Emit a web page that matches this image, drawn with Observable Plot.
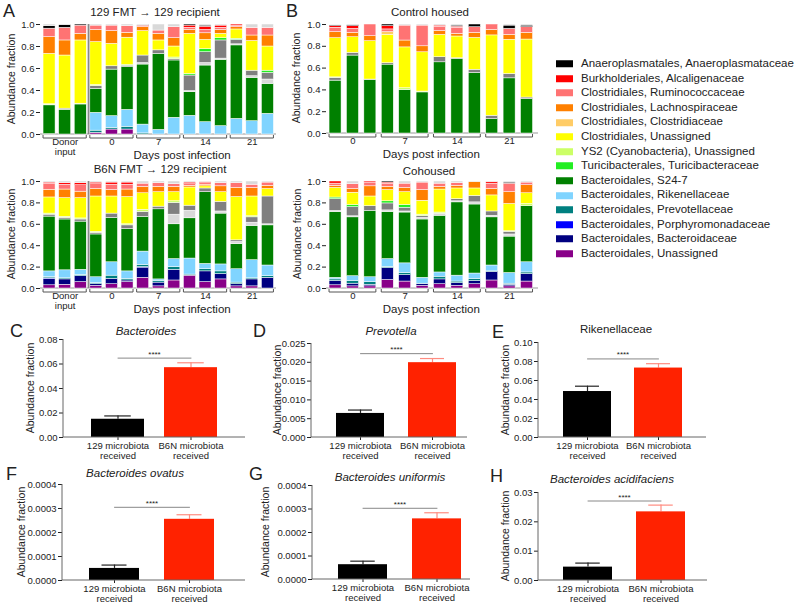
<!DOCTYPE html>
<html><head><meta charset="utf-8">
<script src="https://cdn.jsdelivr.net/npm/d3@7"></script>
<script src="https://cdn.jsdelivr.net/npm/@observablehq/plot@0.6"></script>
<style>
body{margin:0;background:#fff;}
#fig{position:relative;width:800px;height:606px;overflow:hidden;font-family:"Liberation Sans",Arial,sans-serif;color:#222;}
.abs{position:absolute;white-space:nowrap;line-height:1;}
.letter{font-size:18px;transform:translate(0,-50%);}
.title{font-size:11.5px;transform:translate(-50%,-50%);}
.ylab{font-size:10.5px;transform:translate(-50%,-50%) rotate(-90deg);}
#fig svg{position:absolute;overflow:visible;}
</style></head><body><div id="fig"></div>
<script>
// ---------- taxa (stacking order, bottom to top) ----------
const taxaKeys = ["pu","nv","bl","te","lb","gr","lg","dg","tu","ys","ye","lo","or","sa","rd","bk","tg"];
const taxaNames = ["Bacteroidales, Unassigned","Bacteroidales, Bacteroidaceae","Bacteroidales, Porphyromonadaceae","Bacteroidales, Prevotellaceae","Bacteroidales, Rikenellaceae","Bacteroidales, S24-7","Other","Other","Turicibacterales, Turicibacteraceae","YS2 (Cyanobacteria), Unassigned","Clostridiales, Unassigned","Clostridiales, Clostridiaceae","Clostridiales, Lachnospiraceae","Clostridiales, Ruminococcaceae","Burkholderiales, Alcaligenaceae","Anaeroplasmatales, Anaeroplasmataceae","Other"];
const taxaColors = ["#880088","#000080","#0000FF","#008080","#80D4FF","#008000","#D9D9D9","#808080","#22EE22","#CCFF66","#FFFF00","#FFCC66","#FF8000","#FF7373","#FF0000","#000000","#D9D9D9"];
const legendKeys = ["bk","rd","sa","or","lo","ye","ys","tu","gr","lb","te","bl","nv","pu"];

// ---------- cumulative abundance (top of each taxon) per bar ----------
const groupsWithDonor = ["Donor\ninput","0","7","14","21"];
const groupsDays = ["0","7","14","21"];
const barsPerGroup = 3;
const donorBars = 3;

const fmt129to129 = [
 {pu:.003,gr:.265,dg:.27,ys:.275,ye:.733,or:.885,sa:.962,bk:.985,tg:1},
 {gr:.224,dg:.235,ye:.718,or:.855,sa:.97,bk:.995,tg:1},
 {gr:.273,ys:.28,ye:.855,or:.915,sa:.99,bk:1},
 {pu:.015,te:.035,lb:.197,gr:.415,dg:.44,ys:.45,ye:.84,or:.95,sa:.99,tg:1},
 {pu:.045,te:.06,lb:.167,gr:.59,dg:.62,ye:.824,or:.94,sa:.99,tg:1},
 {pu:.045,te:.07,lb:.224,gr:.612,dg:.625,tu:.632,ye:.88,or:.924,sa:.985,tg:1},
 {te:.01,lb:.09,gr:.636,lg:.65,dg:.718,ye:.94,or:.976,sa:.985,rd:.99,bk:.995,tg:1},
 {lb:.042,gr:.733,dg:.765,ye:.855,or:.915,sa:.945,tg:1},
 {lb:.152,gr:.673,dg:.685,ys:.7,ye:.8,or:.876,sa:.976,tg:1},
 {lb:.17,gr:.385,lg:.395,dg:.536,tu:.55,ye:.915,or:.95,sa:.97,rd:.99,bk:1},
 {lb:.112,gr:.627,lg:.65,dg:.748,tu:.775,ye:.86,or:.92,sa:.95,rd:.98,bk:.99,tg:1},
 {lb:.076,gr:.679,lg:.69,dg:.855,tu:.875,ye:.915,or:.95,sa:.97,rd:.99,tg:1},
 {lb:.142,gr:.81,lg:.82,dg:.86,tu:.87,ye:.955,or:.975,sa:.99,rd:1},
 {lb:.121,gr:.515,lg:.53,dg:.58,ye:.85,or:.9,sa:.97,tg:1},
 {lb:.188,gr:.46,lg:.5,dg:.56,tu:.58,ye:.8,or:.9,sa:.97,tg:1}
];
const controlHoused = [
 {gr:.485,dg:.51,ys:.515,ye:.875,or:.93,sa:.97,rd:.985,bk:.993,tg:1},
 {gr:.715,dg:.74,ye:.883,or:.923,sa:.96,rd:.985,bk:.995,tg:1},
 {gr:.49,dg:.495,ye:.847,or:.893,sa:1},
 {gr:.632,dg:.645,ye:.905,lo:.93,sa:.955,rd:.985,bk:1},
 {gr:.399,ys:.415,ye:.79,or:.853,sa:.99,tg:1},
 {gr:.377,ys:.385,ye:.745,or:.8,sa:.99,tg:1},
 {gr:.653,dg:.7,ye:.905,or:.94,sa:.98,rd:.99,tg:1},
 {gr:.684,dg:.69,ye:.89,or:.914,sa:.97,rd:.98,bk:.99,tg:1},
 {gr:.555,dg:.585,ye:.877,or:.923,sa:.975,bk:1},
 {gr:.132,dg:.163,ye:.9,or:.95,sa:1},
 {gr:.506,dg:.546,ye:.86,or:.905,sa:.96,bk:.99,tg:1},
 {gr:.316,dg:.33,ye:.862,or:.923,sa:.975,bk:.99,tg:1}
];
const fmtB6Nto129 = [
 {pu:.03,nv:.09,bl:.095,te:.105,lb:.16,gr:.672,dg:.69,ys:.7,ye:.851,or:.923,sa:.98,rd:.99,tg:1},
 {pu:.035,nv:.085,te:.095,lb:.17,gr:.645,dg:.66,ys:.67,ye:.845,or:.925,sa:.97,rd:.985,tg:1},
 {pu:.06,nv:.115,te:.125,lb:.175,gr:.625,dg:.645,ys:.655,ye:.845,or:.905,sa:.965,rd:.985,tg:1},
 {pu:.025,nv:.04,te:.05,lb:.105,gr:.505,dg:.52,ys:.53,ye:.86,or:.93,sa:.975,rd:.99,tg:1},
 {pu:.04,nv:.09,te:.12,lb:.245,gr:.66,dg:.7,ye:.86,or:.92,sa:.97,rd:.99,tg:1},
 {pu:.06,nv:.075,te:.09,lb:.16,gr:.555,dg:.59,ys:.6,ye:.855,or:.925,sa:.97,rd:.99,tg:1},
 {pu:.1,nv:.195,bl:.2,te:.22,lb:.345,gr:.67,dg:.715,ys:.735,ye:.89,or:.95,sa:.98,tg:1},
 {pu:.02,nv:.055,te:.07,lb:.085,gr:.74,dg:.765,ye:.9,or:.95,sa:.985,tg:1},
 {pu:.075,nv:.175,te:.2,lb:.275,gr:.6,lg:.69,dg:.8,ys:.815,ye:.9,or:.95,sa:.975,tg:1},
 {pu:.12,te:.13,lb:.28,gr:.656,lg:.727,dg:.774,ye:.944,or:.96,sa:.975,rd:.99,tg:1},
 {pu:.06,nv:.16,te:.18,lb:.23,gr:.9,dg:.935,ye:.955,or:.97,sa:.985,rd:.995,tg:1},
 {pu:.085,nv:.135,te:.16,lb:.225,gr:.7,lg:.72,dg:.81,ye:.9,or:.955,sa:.985,tg:1},
 {pu:.02,nv:.04,te:.055,lb:.18,gr:.415,lg:.435,dg:.45,ye:.855,or:.94,sa:.985,tg:1},
 {pu:.02,nv:.085,te:.095,lb:.265,gr:.585,lg:.615,dg:.665,ys:.675,ye:.86,or:.94,sa:.97,tg:1},
 {nv:.1,te:.115,lb:.215,gr:.59,lg:.6,dg:.86,ye:.93,or:.96,sa:.99,tg:1}
];
const cohoused = [
 {pu:.03,nv:.07,te:.085,lb:.1,gr:.715,lg:.725,dg:.835,tu:.85,ye:.94,or:.96,sa:.98,rd:1},
 {pu:.02,nv:.045,te:.07,lb:.115,gr:.665,lg:.675,dg:.76,tu:.78,ye:.895,or:.93,sa:.975,tg:1},
 {pu:.02,nv:.035,te:.06,lb:.105,gr:.725,dg:.77,ye:.86,or:.955,sa:.99,rd:1},
 {pu:.08,nv:.19,te:.2,lb:.275,gr:.715,lg:.73,dg:.795,tu:.815,ye:.92,or:.95,sa:.98,rd:.99,bk:1},
 {pu:.065,nv:.125,te:.145,lb:.235,gr:.71,lg:.72,dg:.755,tu:.78,ye:.9,or:.94,sa:.98,tg:1},
 {pu:.025,nv:.04,te:.045,lb:.1,gr:.645,lg:.66,dg:.675,ys:.69,ye:.82,or:.92,sa:.99,tg:1},
 {pu:.04,nv:.085,te:.11,lb:.15,gr:.68,lg:.7,ys:.71,ye:.925,or:.95,sa:.98,tg:1},
 {pu:.025,nv:.05,te:.065,lb:.12,gr:.805,lg:.815,dg:.835,ye:.935,or:.96,sa:.985,tg:1},
 {pu:.04,nv:.07,te:.09,lb:.14,gr:.785,lg:.805,dg:.865,ye:.935,or:.995,tg:1},
 {pu:.075,nv:.155,te:.16,lb:.215,gr:.665,lg:.68,dg:.72,ye:.87,or:.93,sa:.98,rd:.995,tg:1},
 {pu:.02,nv:.035,te:.045,lb:.145,gr:.485,lg:.505,dg:.53,ys:.535,ye:.79,or:.9,sa:.98,bk:.99,tg:1},
 {pu:.065,nv:.135,te:.15,lb:.245,gr:.77,ys:.79,ye:.89,or:.965,sa:.99,tg:1}
];

// ---------- bar charts (mean, SEM, significance line height) ----------
const barCats = ["129 microbiota\nreceived","B6N microbiota\nreceived"];
const bacteroidesMean = [0.0149, 0.0570], bacteroidesSem = [0.0027, 0.0040], bacteroidesSig = 0.0648;
const prevotellaMean = [0.0064, 0.0199], prevotellaSem = [0.0009, 0.0011], prevotellaSig = 0.0223;
const rikenellaceaeMean = [0.0484, 0.0731], rikenellaceaeSem = [0.0056, 0.0046], rikenellaceaeSig = 0.0827;
const ovatusMean = [0.0000503, 0.000255], ovatusSem = [0.000014, 0.000019], ovatusSig = 0.000305;
const uniformisMean = [0.000063, 0.000258], uniformisSem = [0.000015, 0.000026], uniformisSig = 0.000303;
const acidifaciensMean = [0.00456, 0.0234], acidifaciensSem = [0.00137, 0.0023], acidifaciensSig = 0.0271;
const barColors = ["#000000","#FF2200"];
const errColors = ["#222222","#FF8C80"];

// ---------- helpers ----------
const fig = document.getElementById("fig");
const plotStyle = {background:"transparent", fontFamily:"'Liberation Sans', Arial, sans-serif", fontSize:"9.5px", color:"#222", overflow:"visible"};
function place(node, left, top){ node.style.left = left+"px"; node.style.top = top+"px"; fig.appendChild(node); }
function addText(txt, x, y, cls, italic){
  const d = document.createElement("div");
  d.className = "abs " + cls; d.textContent = txt;
  d.style.left = x+"px"; d.style.top = y+"px";
  if (italic) d.style.fontStyle = "italic";
  fig.appendChild(d);
}
function frameLines(showY, color){
  return (index, scales, values, dims) => {
    const g = d3.create("svg:g").attr("stroke",color).attr("stroke-width",1).attr("fill","none");
    const x0 = dims.marginLeft, x1 = dims.width - dims.marginRight;
    const y0 = dims.marginTop, y1 = dims.height - dims.marginBottom;
    g.append("line").attr("x1",x0).attr("x2",x1).attr("y1",y1).attr("y2",y1);
    if (showY) g.append("line").attr("x1",x0).attr("x2",x0).attr("y1",y0).attr("y2",y1);
    return g.node();
  };
}

function stackPanel(cfg){
  const {tops, groups, donor, left, top, width, height, axisL, axisR, yTop, yBot, xDom, hw} = cfg;
  const segs = [];
  tops.forEach((bar, i) => {
    let prev = 0;
    taxaKeys.forEach(k => {
      if (bar[k] !== undefined) {
        if (bar[k] > prev) segs.push({i, key:k, y1:prev, y2:bar[k]});
        prev = bar[k];
      }
    });
  });
  const gInfo = groups.map((label, g) => ({label, start:g*barsPerGroup, end:g*barsPerGroup+barsPerGroup-1, mid:g*barsPerGroup+(barsPerGroup-1)/2}));
  const dayStart = donor ? donorBars : 0;
  const dayMid = (dayStart + tops.length - 1)/2;
  const marks = [
    frameLines(false, "#999"),
    Plot.rect(segs, {x1:d=>d.i-hw, x2:d=>d.i+hw, y1:"y1", y2:"y2", fill:"key", stroke:"white", strokeWidth:0.5}),
    (index, scales) => {
      const g = d3.create("svg:g").attr("stroke","#555").attr("stroke-width",1).attr("fill","none");
      const yb = scales.y(0) + 4;
      gInfo.forEach(d => {
        const xs = scales.x(d.start - hw), xe = scales.x(d.end + hw);
        g.append("path").attr("d", `M${xs},${yb-3}V${yb}H${xe}V${yb-3}`);
      });
      return g.node();
    },
    Plot.text(gInfo, {x:"mid", y:0, text:"label", dy:4, lineAnchor:"top", fontSize:9.5}),
    Plot.text([{x:dayMid, t:"Days post infection"}], {x:"x", y:0, text:"t", dy:20.5, fontSize:11.5})
  ];
  if (donor) marks.push(Plot.ruleX([donorBars - 0.5], {y1:0, y2:1, stroke:"#888", strokeWidth:1.8}));
  const svg = Plot.plot({
    width, height,
    marginLeft: axisL-left, marginRight: left+width-axisR, marginTop: yTop-top, marginBottom: top+height-yBot,
    style: plotStyle,
    x: {domain:xDom, axis:null},
    y: {domain:[0,1], ticks:[0,0.2,0.4,0.6,0.8,1], tickFormat:d3.format(".1f"), tickSize:4, tickPadding:2, label:null},
    color: {domain:taxaKeys, range:taxaColors},
    marks
  });
  place(svg, left, top);
}

function barPanel(cfg){
  const {left, top, width, height, axisL, axisR, yTop, yBot, c0, c1, bw, yMax, ticks, fmt, mean, sem, sig} = cfg;
  const data = barCats.map((c, j) => ({cat:c, mean:mean[j], hi:mean[j]+sem[j], j}));
  const step = c1 - c0;
  const svg = Plot.plot({
    width, height,
    marginLeft: axisL-left, marginRight: left+width-axisR, marginTop: yTop-top, marginBottom: top+height-yBot,
    style: plotStyle,
    x: {type:"band", domain:barCats, range:[c0-bw/2-left, c1+bw/2-left], paddingInner:1-bw/step, paddingOuter:0, label:null, tickSize:3, tickPadding:2},
    y: {domain:[0,yMax], ticks, tickFormat:d3.format(fmt), tickSize:4, tickPadding:2, label:null},
    marks: [
      Plot.ruleX(data, {x:"cat", y1:"mean", y2:"hi", stroke:d=>errColors[d.j], strokeWidth:1.2}),
      Plot.tickY(data, {x:"cat", y:"hi", stroke:d=>errColors[d.j], strokeWidth:1.2, insetLeft:bw*0.25, insetRight:bw*0.25}),
      Plot.barY(data, {x:"cat", y:"mean", fill:d=>barColors[d.j]}),
      Plot.line(barCats.map(c => ({cat:c, y:sig})), {x:"cat", y:"y", stroke:"#888", strokeWidth:1}),
      Plot.text([{cat:barCats[0], y:sig}], {x:"cat", y:"y", text:()=>"****", dx:step/2, dy:-4, fontSize:8}),
      frameLines(true, "#666")
    ]
  });
  place(svg, left, top);
}

// ---------- stacked panels ----------
stackPanel({tops:fmt129to129, groups:groupsWithDonor, donor:true, left:0, top:0, width:290, height:165, axisL:40, axisR:276, yTop:24, yBot:134, xDom:[-0.58,14.55], hw:0.385});
stackPanel({tops:fmtB6Nto129, groups:groupsWithDonor, donor:true, left:0, top:157, width:290, height:165, axisL:40, axisR:276, yTop:181, yBot:288, xDom:[-0.58,14.55], hw:0.385});
stackPanel({tops:controlHoused, groups:groupsDays, donor:false, left:285, top:0, width:265, height:165, axisL:326, axisR:538, yTop:24, yBot:133, xDom:[-0.52,11.66], hw:0.345});
stackPanel({tops:cohoused, groups:groupsDays, donor:false, left:285, top:157, width:265, height:165, axisL:326, axisR:538, yTop:181, yBot:288, xDom:[-0.52,11.66], hw:0.345});

// ---------- bar panels ----------
barPanel({left:0, top:320, width:255, height:150, axisL:63, axisR:245, yTop:339, yBot:437, c0:117, c1:190, bw:53, yMax:0.08, ticks:[0,0.02,0.04,0.06,0.08], fmt:".2f", mean:bacteroidesMean, sem:bacteroidesSem, sig:bacteroidesSig});
barPanel({left:258, top:320, width:220, height:150, axisL:311, axisR:467, yTop:343, yBot:437, c0:360, c1:432, bw:48, yMax:0.025, ticks:[0,0.005,0.01,0.015,0.02,0.025], fmt:".3f", mean:prevotellaMean, sem:prevotellaSem, sig:prevotellaSig});
barPanel({left:490, top:320, width:230, height:150, axisL:538, axisR:706, yTop:342, yBot:437, c0:587, c1:658, bw:48, yMax:0.10, ticks:[0,0.02,0.04,0.06,0.08,0.10], fmt:".2f", mean:rikenellaceaeMean, sem:rikenellaceaeSem, sig:rikenellaceaeSig});
barPanel({left:0, top:465, width:255, height:141, axisL:62, axisR:245, yTop:484, yBot:580, c0:114, c1:189, bw:50, yMax:0.0004, ticks:[0,0.0001,0.0002,0.0003,0.0004], fmt:".4f", mean:ovatusMean, sem:ovatusSem, sig:ovatusSig});
barPanel({left:258, top:465, width:220, height:141, axisL:312, axisR:470, yTop:485, yBot:579, c0:362, c1:436, bw:49, yMax:0.0004, ticks:[0,0.0001,0.0002,0.0003,0.0004], fmt:".4f", mean:uniformisMean, sem:uniformisSem, sig:uniformisSig});
barPanel({left:490, top:465, width:230, height:141, axisL:538, axisR:707, yTop:492, yBot:580, c0:587, c1:660, bw:49, yMax:0.03, ticks:[0,0.01,0.02,0.03], fmt:".2f", mean:acidifaciensMean, sem:acidifaciensSem, sig:acidifaciensSig});

// ---------- text: letters, titles, axis titles ----------
[["A",3,11],["B",286,11],["C",10,331],["D",253,331],["E",492,332],["F",6,474],["G",249,474],["H",490,476]].forEach(([t,x,y]) => addText(t,x,y,"letter"));
addText("129 FMT \u2192 129 recipient", 155, 13, "title");
addText("Control housed", 430, 13, "title");
addText("B6N FMT \u2192 129 recipient", 160, 170, "title");
addText("Cohoused", 429, 172, "title");
addText("Bacteroides", 146, 332, "title", true);
addText("Prevotella", 391, 332, "title", true);
addText("Rikenellaceae", 616, 330, "title");
addText("Bacteroides ovatus", 135, 474, "title", true);
addText("Bacteroides uniformis", 390, 478, "title", true);
addText("Bacteroides acidifaciens", 612, 480, "title", true);
[[11,79],[11,234],[296,78],[297,234],[30,388],[277,390],[505,390],[21,532],[265,532],[505,536]].forEach(([x,y]) => addText("Abundance fraction", x, y, "ylab"));

// ---------- legend ----------
legendKeys.forEach((k, r) => {
  const idx = taxaKeys.indexOf(k);
  const row = document.createElement("div");
  row.className = "abs";
  row.style.left = "556px"; row.style.top = (64 + 14.6*r) + "px";
  row.style.transform = "translateY(-50%)"; row.style.display = "flex"; row.style.alignItems = "center";
  const sw = document.createElement("span");
  sw.style.cssText = `display:inline-block;width:17px;height:7px;background:${taxaColors[idx]}`;
  const tx = document.createElement("span");
  tx.style.cssText = "margin-left:8px;font-size:11.5px;";
  tx.textContent = taxaNames[idx];
  row.appendChild(sw); row.appendChild(tx);
  fig.appendChild(row);
});
</script></body></html>
